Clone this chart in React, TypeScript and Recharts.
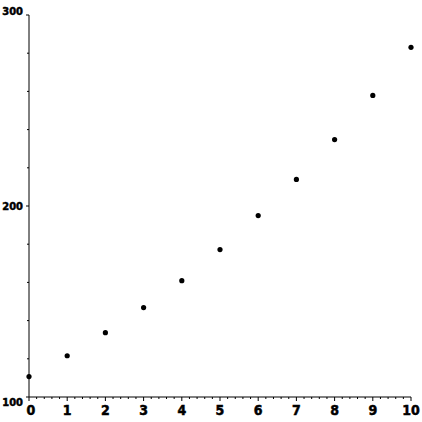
import { ScatterChart, Scatter, XAxis, YAxis } from 'recharts';

const xValues = [0, 1, 2, 3, 4, 5, 6, 7, 8, 9, 10];
const yValues = [110.7, 121.6, 133.7, 146.8, 160.9, 177.2, 195.0, 213.9, 234.8, 257.9, 283.1];
const xTicks = Array.from({ length: 51 }, (_, i) => +(i * 0.2).toFixed(1));
const yTicks = Array.from({ length: 11 }, (_, i) => 100 + i * 20);
const yLabels = [100, 200, 300];

const points = xValues.map((x, i) => ({ x, y: yValues[i] }));

const FONT = "'Liberation Sans Narrow', 'DejaVu Sans Condensed', 'Liberation Sans', sans-serif";

function XTick(props: any) {
    const { x, y, payload } = props;
    const v = payload.value;
    const major = Math.abs(v - Math.round(v)) < 1e-6;
    return (
        <g>
            <line x1={x} x2={x} y1={y} y2={y + (major ? 4 : 2)} stroke="#000" />
            {major && (
                <text x={x + (v === 0 ? 2 : 0)} y={y + 18} textAnchor="middle" fontFamily={FONT} fontWeight="bold"
                    fontSize={14} fill="#000" stroke="#000" strokeWidth={0.5}>
                    {v}
                </text>
            )}
        </g>
    );
}

function YTick(props: any) {
    const { x, y, payload } = props;
    const v = payload.value;
    const major = yLabels.includes(v);
    const dy = v === 300 ? 0 : v === 100 ? 9 : 4;
    return (
        <g>
            <line x1={x} x2={x - (major ? 3 : 2)} y1={y} y2={y} stroke="#000" />
            {major && (
                <text x={x - 6} y={y + dy} textAnchor="end" fontFamily={FONT} fontWeight="bold"
                    fontSize={11} fill="#000" stroke="#000" strokeWidth={0.5}>
                    {v}
                </text>
            )}
        </g>
    );
}

export default function App() {
    return (
        <div style={{ position: 'absolute', left: 0, top: 0, width: 422, height: 422, background: '#fff' }}>
            <ScatterChart width={422} height={422} margin={{ top: 15, right: 11, left: 0, bottom: 0 }}>
                <XAxis
                    type="number"
                    dataKey="x"
                    domain={[0, 10]}
                    ticks={xTicks}
                    interval={0}
                    height={25}
                    tickSize={0}
                    tickMargin={0}
                    tickLine={false}
                    axisLine={{ stroke: '#000' }}
                    tick={<XTick />}
                />
                <YAxis
                    type="number"
                    dataKey="y"
                    domain={[100, 300]}
                    ticks={yTicks}
                    interval={0}
                    width={29}
                    tickSize={0}
                    tickMargin={0}
                    tickLine={false}
                    axisLine={{ stroke: '#000' }}
                    tick={<YTick />}
                />
                <Scatter
                    data={points}
                    isAnimationActive={false}
                    shape={(p: any) => <circle cx={p.cx} cy={p.cy} r={2.6} fill="#000" />}
                />
            </ScatterChart>
        </div>
    );
}
